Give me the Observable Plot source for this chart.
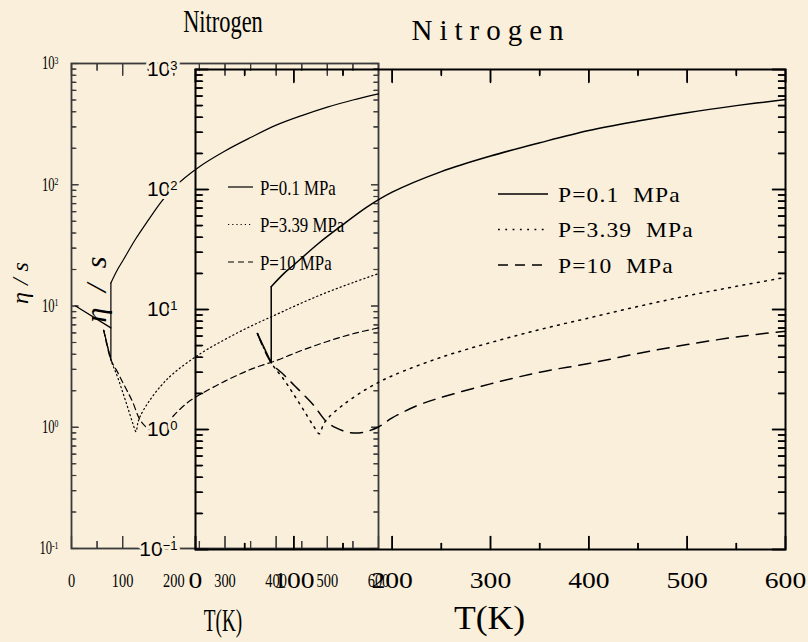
<!DOCTYPE html>
<html><head><meta charset="utf-8">
<script src="https://cdn.jsdelivr.net/npm/d3@7"></script>
<script src="https://cdn.jsdelivr.net/npm/@observablehq/plot@0.6"></script>
<style>
html,body{margin:0;padding:0;background:#f9efdb;}
#wrap{position:relative;width:808px;height:642px;overflow:hidden;background:#f9efdb;}
#wrap svg{position:absolute;left:0;top:0;}
</style></head><body><div id="wrap"></div>
<script>
const BG = "#f9efdb";
// ---- data ----
const title = "Nitrogen";
const xLabel = "T(K)";
const yLabel = "η/s";
const pressures = ["P=0.1 MPa", "P=3.39 MPa", "P=10 MPa"];
const xMajor = [0, 100, 200, 300, 400, 500, 600];
const xMinor = [50, 150, 250, 350, 450, 550];
const yMajor = [0.1, 1, 10, 100, 1000];
const yMinorMult = [2, 3, 4, 5, 6, 7, 8, 9];
const yMinor = yMajor.slice(0, -1).flatMap(p => yMinorMult.map(m => m * p));

// P = 0.1 MPa (solid): liquid branch + jump at boiling, then gas
const T_p01_liq = [63, 77, 77];
const eta_p01_liq = [6.3, 3.6, 15.5];
const T_p01_gas = [77, 90, 100, 125, 150, 175, 200, 250, 300, 350, 400, 450, 500, 550, 600];
const eta_p01_gas = [15.5, 20, 23.5, 35.5, 51, 72, 95, 141, 190, 245, 310, 372, 437, 500, 562];
// P = 3.39 MPa (dotted)
const T_p339 = [63, 77, 90, 100, 110, 120, 126, 130, 135, 150, 175, 200, 250, 300, 350, 400, 450, 500, 550, 600];
const eta_p339 = [6.3, 3.6, 2.6, 1.95, 1.45, 1.07, 0.92, 1.1, 1.25, 1.6, 2.2, 2.8, 4.0, 5.3, 6.8, 8.5, 10.6, 13.0, 15.6, 18.5];
// P = 10 MPa (dashed)
const T_p10 = [63, 77, 90, 100, 110, 120, 132, 142, 158, 171, 186, 200, 227, 250, 300, 350, 400, 450, 500, 550, 600];
const eta_p10 = [6.3, 3.6, 2.85, 2.35, 1.95, 1.6, 1.19, 1.04, 0.94, 0.95, 1.05, 1.25, 1.6, 1.85, 2.4, 3.0, 3.55, 4.3, 5.1, 5.9, 6.6];
// extra liquid segment visible only in the small panel
const T_p01_liqA = [8, 77];
const eta_p01_liqA = [10, 6.6];

const rows = (T, E) => T.map((t, i) => ({T: t, eta: E[i]}));

// inward tick segments expressed in data units of the fixed scales
function tickRows(o, fw, fh) {
  const pxDec = fh / 4, pxX = fw / 600;
  const f = len => Math.pow(10, len / pxDec);
  const r = [];
  let id = 0;
  for (const [vals, len] of [[xMajor, o.xMaj], [xMinor, o.xMin]]) for (const v of vals) {
    r.push({id, x: v, y: 0.1}, {id: id++, x: v, y: 0.1 * f(len)});
    r.push({id, x: v, y: 1000}, {id: id++, x: v, y: 1000 / f(len)});
  }
  for (const [vals, len] of [[yMajor, o.yMaj], [yMinor, o.yMin]]) for (const v of vals) {
    r.push({id, x: 0, y: v}, {id: id++, x: len / pxX, y: v});
    r.push({id, x: 600, y: v}, {id: id++, x: 600 - len / pxX, y: v});
  }
  return r;
}

function panel(o) {
  const W = 808, H = 642;
  const fw = W - o.m[1] - o.m[3], fh = H - o.m[0] - o.m[2];
  const st = {stroke: o.frame, strokeWidth: o.tickW};
  const marks = [Plot.frame({stroke: o.frame, strokeWidth: o.frameWidth})];
  marks.push(Plot.ruleX(xMajor, {x: d => d, insetTop: fh - o.xMaj, ...st}));
  marks.push(Plot.ruleX(xMinor, {x: d => d, insetTop: fh - o.xMin, ...st}));
  marks.push(Plot.ruleX(xMajor, {x: d => d, insetBottom: fh - o.xMaj, ...st}));
  marks.push(Plot.ruleX(xMinor, {x: d => d, insetBottom: fh - o.xMin, ...st}));
  marks.push(Plot.ruleY(yMajor, {y: d => d, insetRight: fw - o.yMaj, ...st}));
  marks.push(Plot.ruleY(yMinor, {y: d => d, insetRight: fw - o.yMin, ...st}));
  marks.push(Plot.ruleY(yMajor, {y: d => d, insetLeft: fw - o.yMaj, ...st}));
  marks.push(Plot.ruleY(yMinor, {y: d => d, insetLeft: fw - o.yMin, ...st}));
  marks.push(Plot.line(tickRows(o, fw, fh), {x: "x", y: "y", z: "id", ...st}));
  marks.push(Plot.axisX(xMajor, {anchor: "bottom", tickSize: 0, tickPadding: o.xPad, label: null, fill: "black",
    tickFormat: d => String(d), fontFamily: o.xFont, fontSize: o.xFontSize}));
  marks.push(Plot.axisY(yMajor, {anchor: "left", tickSize: 0, tickPadding: o.yPad, label: null, fill: "black",
    tickFormat: d => "10^" + Math.round(Math.log10(d)), fontFamily: o.yFont, fontSize: o.yFontSize}));
  const lw = o.lineW;
  marks.push(Plot.line(rows(T_p01_liq, eta_p01_liq), {x: "T", y: "eta", stroke: "black", strokeWidth: lw}));
  marks.push(Plot.line(rows(T_p01_gas, eta_p01_gas), {x: "T", y: "eta", stroke: "black", strokeWidth: lw, curve: "catmull-rom"}));
  marks.push(Plot.line(rows(T_p339, eta_p339), {x: "T", y: "eta", stroke: "black", strokeWidth: lw, strokeDasharray: o.dotted, curve: "catmull-rom"}));
  marks.push(Plot.line(rows(T_p10, eta_p10), {x: "T", y: "eta", stroke: "black", strokeWidth: lw, strokeDasharray: o.dashed, curve: "catmull-rom"}));
  if (o.extra) marks.push(Plot.line(rows(T_p01_liqA, eta_p01_liqA), {x: "T", y: "eta", stroke: "black", strokeWidth: lw}));
  marks.push(Plot.text([title], {text: d => d, frameAnchor: "top", dy: o.titleDy, dx: o.titleDx, lineAnchor: "middle",
    fontFamily: o.titleFont, fontSize: o.titleSize, fill: "black"}));
  marks.push(Plot.text([xLabel], {text: d => d, frameAnchor: "bottom", dy: o.xlDy, dx: o.xlDx, lineAnchor: "middle",
    fontFamily: o.xlFont, fontSize: o.xlSize, fill: "black"}));
  marks.push(Plot.text([yLabel], {text: d => d, frameAnchor: "left", dx: o.ylDx, dy: o.ylDy, rotate: -90, lineAnchor: "middle",
    fontFamily: o.ylFont, fontSize: o.ylSize, fill: "black"}));
  return Plot.plot({
    width: W, height: H,
    marginTop: o.m[0], marginRight: o.m[1], marginBottom: o.m[2], marginLeft: o.m[3],
    x: {domain: [0, 600]},
    y: {type: "log", domain: [0.1, 1000]},
    style: {background: "transparent", color: "black", overflow: "visible"},
    marks
  });
}

function supers(svg, minus) {
  svg.querySelectorAll('g[aria-label="y-axis tick label"] text').forEach(t => {
    const m = /^10\^(.+)$/.exec(t.textContent);
    if (!m) return;
    t.textContent = "10";
    const ts = document.createElementNS("http://www.w3.org/2000/svg", "tspan");
    ts.setAttribute("dy", "-0.5em");
    ts.setAttribute("font-size", "0.62em");
    ts.textContent = m[1].replace("-", minus);
    t.appendChild(ts);
  });
}
function squeeze(t, f, adjust = "spacingAndGlyphs") {
  const L = t.getComputedTextLength();
  if (L > 0) { t.setAttribute("textLength", (L * f).toFixed(1)); t.setAttribute("lengthAdjust", adjust); }
}
function fitWidth(t, w, adjust) {
  t.setAttribute("textLength", w); t.setAttribute("lengthAdjust", adjust);
}
function compressGroup(svg, label, f) {
  svg.querySelectorAll(`g[aria-label="${label}"] text`).forEach(t => squeeze(t, f));
}
function byText(svg, content) {
  return Array.from(svg.querySelectorAll("text")).filter(t => t.textContent === content);
}
function legend(o) {
  const svg = d3.create("svg").attr("width", 808).attr("height", 642);
  const dashes = [null, o.dotted, o.dashed];
  pressures.forEach((p, i) => {
    const y = o.y0 + i * o.dy;
    svg.append("line").attr("x1", o.x1).attr("x2", o.x2).attr("y1", y).attr("y2", y)
      .attr("stroke", "black").attr("stroke-width", o.w).attr("stroke-dasharray", dashes[i]);
    svg.append("text").attr("x", o.tx).attr("y", y).attr("dy", "0.36em")
      .attr("font-family", o.font).attr("font-size", o.size)
      .style("letter-spacing", o.ls).style("word-spacing", o.ws).text(p);
  });
  return svg.node();
}

const wrap = document.getElementById("wrap");
const SERIF = "Liberation Serif";

// ---- small (left) panel ----
const A = panel({
  m: [63, 430, 94, 71], frame: "#3a3a3a", frameWidth: 1.8, tickW: 1.2,
  xMaj: 12, xMin: 7, yMaj: 7, yMin: 4.5,
  xPad: 26, xFont: SERIF, xFontSize: 18,
  yPad: 13, yFont: SERIF, yFontSize: 18,
  lineW: 1.2, dotted: "1.2,3", dashed: "6,4", extra: true,
  titleDy: -42, titleDx: -2, titleFont: SERIF, titleSize: 32,
  xlDy: 72, xlDx: -2, xlFont: SERIF, xlSize: 32,
  ylDx: -51, ylDy: -2, ylFont: SERIF, ylSize: 24
});
wrap.appendChild(A);
supers(A, "-");
compressGroup(A, "x-axis tick label", 0.8);
compressGroup(A, "y-axis tick label", 0.7);
byText(A, title).forEach(t => squeeze(t, 0.7));
byText(A, xLabel).forEach(t => squeeze(t, 0.6));
byText(A, yLabel).forEach(t => { t.style.letterSpacing = "7px"; t.style.fontStyle = "italic"; });

const LA = legend({x1: 228, x2: 253, tx: 260, y0: 187, dy: 37.5, w: 1.2, dotted: "1.2,3", dashed: "6,4",
  font: SERIF, size: 21, ls: "0px", ws: "0px"});
wrap.appendChild(LA);
LA.querySelectorAll("text").forEach(t => squeeze(t, 0.8));

// ---- large panel ----
const C = panel({
  m: [69, 23, 93, 195], frame: "black", frameWidth: 2, tickW: 1.5,
  xMaj: 13, xMin: 6, yMaj: 13, yMin: 7,
  xPad: 22, xFont: SERIF, xFontSize: 23,
  yPad: 18, yFont: "Liberation Sans", yFontSize: 21,
  lineW: 1.5, dotted: "1.8,5.5", dashed: "12,8", extra: false,
  titleDy: -39, titleDx: -3, titleFont: SERIF, titleSize: 29,
  xlDy: 69, xlDx: -1, xlFont: SERIF, xlSize: 33,
  ylDx: -99, ylDy: 13, ylFont: SERIF, ylSize: 30
});
wrap.appendChild(C);
supers(C, "\u2212");
compressGroup(C, "x-axis tick label", 1.2);
byText(C, title).forEach(t => fitWidth(t, 152, "spacing"));
byText(C, xLabel).forEach(t => squeeze(t, 1.08));
byText(C, yLabel).forEach(t => { t.style.fontStyle = "italic"; fitWidth(t, 66, "spacing"); });
C.querySelectorAll('g[aria-label="y-axis tick label"] text').forEach(t => {
  t.setAttribute("stroke", BG); t.setAttribute("stroke-width", "6");
  t.setAttribute("stroke-linejoin", "round"); t.style.paintOrder = "stroke";
});

const LC = legend({x1: 498, x2: 548, tx: 558, y0: 194, dy: 35.5, w: 1.5, dotted: "1.8,5.5", dashed: "10,7",
  font: SERIF, size: 21, ls: "1px", ws: "6px"});
wrap.appendChild(LC);
LC.querySelectorAll("text").forEach(t => squeeze(t, 1.12));
</script>
</body></html>
